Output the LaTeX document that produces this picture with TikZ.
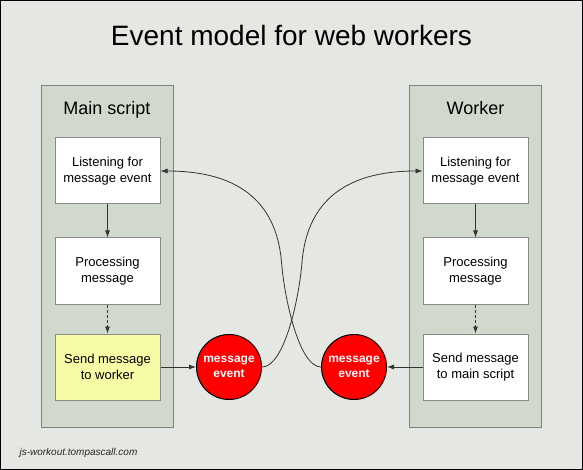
\documentclass[tikz,border=0pt]{standalone}
\usepackage{fontspec}
\setmainfont{Liberation Sans}
\usetikzlibrary{arrows.meta}
\definecolor{bgc}{HTML}{E5E7E2}
\definecolor{panelc}{HTML}{D1D9CC}
\definecolor{paneledge}{HTML}{7F827D}
\definecolor{boxedge}{HTML}{8A8A8A}
\definecolor{yellowc}{HTML}{F8FBA6}
\definecolor{linec}{HTML}{333333}
\tikzset{
  panel/.style={draw=paneledge, fill=panelc, line width=1pt, minimum width=132pt, minimum height=341pt, inner sep=0pt},
  stepbox/.style={draw=boxedge, fill=white, line width=1pt, minimum width=105pt, minimum height=66pt, inner sep=0pt, align=center, font=\fontsize{13}{15.7}\selectfont},
  evt/.style={circle, draw=black, fill=red, line width=1pt, minimum size=65pt, inner sep=0pt, align=center, text=white, font=\fontsize{12}{15}\selectfont\bfseries},
  conn/.style={draw=linec, line width=0.8pt, -{Latex[length=7pt,width=5pt]}},
  dashconn/.style={conn, dash pattern=on 3pt off 2pt},
  paneltitle/.style={anchor=base, font=\fontsize{18}{21}\selectfont},
}
\begin{document}
\begin{tikzpicture}[x=1pt,y=-1pt]
\useasboundingbox (0,0) rectangle (583,470);
\fill[bgc] (0,0) rectangle (583,470);
\draw[black, line width=1pt] (0.5,0.5) rectangle (582.5,469.5);
\node[anchor=base, font=\fontsize{28}{33}\selectfont] (title) at (291.5,46) {Event model for web workers};
% panels
\node[panel] (lp) at (107,256.5) {};
\node[panel] (rp) at (475.5,256.5) {};
\node[paneltitle] (lpt) at (107,115) {Main script};
\node[paneltitle] (rpt) at (475.5,115) {Worker};
% left boxes
\node[stepbox] (l1) at (107.5,171) {Listening for\\message event};
\node[stepbox] (l2) at (107.5,271) {Processing\\message};
\node[stepbox, fill=yellowc] (l3) at (107.5,367) {Send message\\to worker};
% right boxes
\node[stepbox] (r1) at (475.5,171) {Listening for\\message event};
\node[stepbox] (r2) at (475.5,271) {Processing\\message};
\node[stepbox] (r3) at (475.5,367) {Send message\\to main script};
% events
\node[evt] (le) at (229,367) {message\\event};
\node[evt] (re) at (354,367) {message\\event};
% straight connectors
\draw[conn] (l1) -- (l2);
\draw[dashconn] (l2) -- (l3);
\draw[conn] (r1) -- (r2);
\draw[dashconn] (r2) -- (r3);
\draw[conn] (l3) -- (le);
\draw[conn] (r3) -- (re);
% curved connectors
\coordinate (m1) at (302,262);
\coordinate (m2) at (281.5,262);
\draw[conn] (le.east) .. controls (284,367) and (299,300) .. (m1)
  .. controls (306,216) and (330,171) .. (r1.west);
\draw[conn] (re.west) .. controls (299.5,367) and (284.5,300) .. (m2)
  .. controls (277.5,216) and (253.5,171) .. (l1.east);
% footer
\node[anchor=base west, font=\fontsize{10}{12}\selectfont\itshape, text=black!85] (foot) at (16,455) {js-workout.tompascall.com};
\end{tikzpicture}
\end{document}
